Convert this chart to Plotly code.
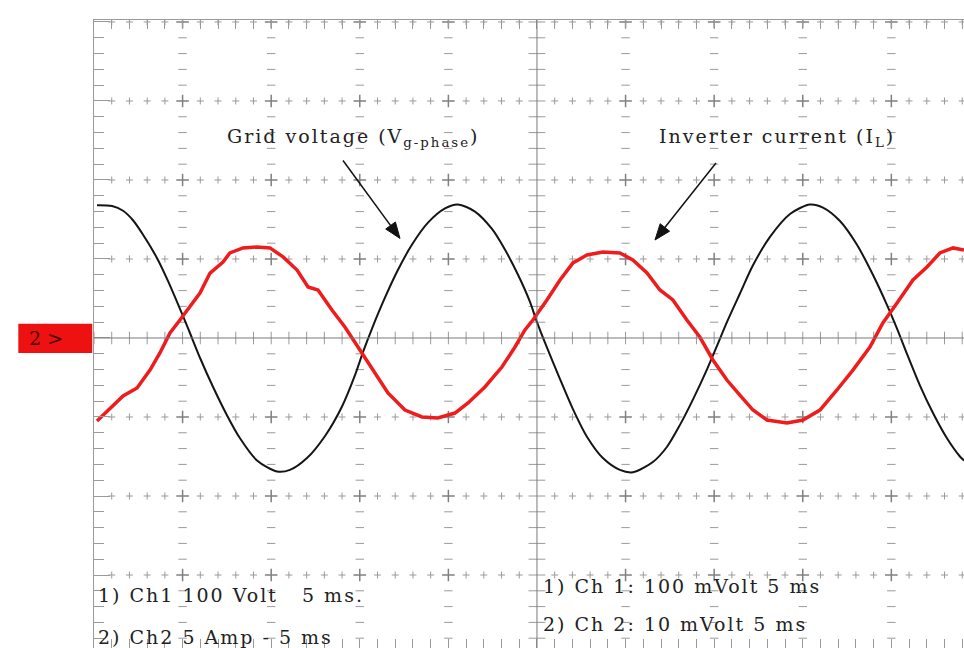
import plotly.graph_objects as go

# ---------------- data ----------------
# Ch1: grid voltage (V), time in ms (5 ms/div)
t_v = [0.17, 1.02, 1.64, 2.20, 2.76, 3.56, 4.18, 4.68, 5.13, 5.42, 5.98, 6.72, 7.51, 8.24,
       9.20, 10.33, 11.06, 12.02, 13.04, 13.99, 14.73, 15.18, 15.69, 16.42, 17.15, 17.94,
       18.85, 19.81, 20.54, 21.50, 22.46, 23.19, 23.93, 24.60, 25.00, 25.56, 26.30, 27.03,
       27.82, 28.72, 29.68, 30.41, 31.54, 32.33, 33.07, 33.80, 34.59, 35.16, 35.72, 36.45,
       37.19, 38.15, 39.28, 40.41, 41.14, 42.10, 43.06, 43.96, 44.75, 45.32, 45.88, 46.61,
       47.35, 48.14, 48.87, 49.10]
v_grid = [168, 167, 161, 149, 131, 101, 72, 46, 22, 6, -25, -62, -98, -127,
          -155, -169, -167, -152, -124, -87, -47, -18, 12, 51, 86, 118,
          146, 164, 169, 160, 138, 112, 80, 46, 20, -12, -52, -90,
          -125, -152, -167, -170, -157, -138, -110, -78, -40, -10, 20, 56,
          92, 128, 157, 169, 165, 148, 118, 80, 42, 12, -20, -60,
          -95, -127, -150, -155]

# Ch2: inverter current (A), time in ms
t_i = [0.17, 0.90, 1.64, 2.43, 3.16, 3.72, 4.29, 4.85, 5.42, 5.98, 6.55, 7.28, 7.67, 8.41,
       9.20, 9.93, 10.67, 11.46, 12.08, 12.64, 13.43, 14.16, 15.12, 15.86, 16.59, 17.55,
       18.51, 19.41, 20.37, 21.11, 22.06, 23.02, 23.76, 24.32, 24.77, 25.56, 26.30, 27.03,
       27.82, 28.72, 29.68, 30.41, 31.21, 31.94, 32.67, 33.46, 34.19, 34.93, 35.72, 36.45,
       37.19, 37.98, 39.11, 40.01, 40.97, 41.93, 42.83, 43.79, 44.52, 45.32, 46.22, 47.01,
       47.74, 48.48, 49.10]
i_inv = [-5.25, -4.43, -3.67, -3.16, -2.03, -0.95, 0.32, 1.14, 1.96, 2.85, 4.11, 4.81, 5.38, 5.70,
         5.76, 5.70, 5.13, 4.30, 3.23, 3.04, 1.77, 0.70, -0.95, -2.22, -3.48, -4.56,
         -5.00, -5.06, -4.75, -4.11, -3.10, -1.84, -0.57, 0.51, 1.14, 2.41, 3.67, 4.75,
         5.25, 5.44, 5.38, 4.94, 4.11, 3.04, 2.41, 1.14, 0.06, -1.39, -2.66, -3.61,
         -4.56, -5.19, -5.38, -5.19, -4.56, -3.29, -2.03, -0.57, 0.95, 2.22, 3.67, 4.49,
         5.38, 5.70, 5.57]

# scope settings
MS_PER_DIV = 5
V_PER_DIV = 100
A_PER_DIV = 5
X_RANGE = [0, 49.1]
Y_RANGE = [-392.4, 402.5]
Y2_RANGE = [Y_RANGE[0] * A_PER_DIV / V_PER_DIV, Y_RANGE[1] * A_PER_DIV / V_PER_DIV]

label_v = "Grid voltage (V<sub>g-phase</sub>)"
label_i = "Inverter current (I<sub>L</sub>)"
grid_label_left = ["1) Ch1 100 Volt   5 ms.", "2) Ch2 5 Amp - 5 ms"]
grid_label_right = ["1) Ch 1: 100 mVolt 5 ms", "2) Ch 2: 10 mVolt 5 ms"]

GRID_COL = "#9a9a9a"
TXT_COL = "#222222"
FONT = "DejaVu Serif"


def wide(s):
    return '<span style="letter-spacing:2px">' + s + '</span>'


fig = go.Figure()

# ---------------- graticule (built from the axis divisions) ----------------
minor_x = [k * MS_PER_DIV / 5 for k in range(0, 50) if k * MS_PER_DIV / 5 <= X_RANGE[1]]
minor_y = [k * V_PER_DIV / 5 for k in range(-19, 21)]
major_x = [k * MS_PER_DIV for k in range(0, 10)]
major_y = [k * V_PER_DIV for k in range(-3, 5)]
center_x = 5 * MS_PER_DIV

hx, hy = [], []
for yy in major_y:
    if yy == 0:
        continue
    for xx in minor_x:
        if xx % MS_PER_DIV != 0:
            hx.append(xx); hy.append(yy)
vx, vy = [], []
for xx in major_x:
    if xx in (0, center_x):
        continue
    for yy in minor_y:
        if yy % V_PER_DIV != 0:
            vx.append(xx); vy.append(yy)
ix, iy = [], []
for xx in major_x:
    if xx in (0, center_x):
        continue
    for yy in major_y:
        if yy != 0:
            ix.append(xx); iy.append(yy)

mk = dict(mode="markers", hoverinfo="skip", showlegend=False)
fig.add_trace(go.Scatter(x=hx, y=hy, marker=dict(symbol="cross-thin", size=5,
                         line=dict(color=GRID_COL, width=1)), **mk))
fig.add_trace(go.Scatter(x=vx, y=vy, marker=dict(symbol="line-ew", size=6,
                         line=dict(color=GRID_COL, width=1)), **mk))
fig.add_trace(go.Scatter(x=ix, y=iy, marker=dict(symbol="cross-thin", size=9,
                         line=dict(color="#808080", width=1.5)), **mk))
# centre axes tick marks
fig.add_trace(go.Scatter(x=minor_x, y=[0] * len(minor_x), marker=dict(symbol="line-ns", size=9,
                         line=dict(color=GRID_COL, width=1)), **mk))
fig.add_trace(go.Scatter(x=[center_x] * len(minor_y), y=minor_y, marker=dict(symbol="line-ew", size=12,
                         line=dict(color=GRID_COL, width=1)), **mk))
fig.add_hline(y=0, line=dict(color="#7a7a7a", width=1))
fig.add_vline(x=center_x, line=dict(color="#7a7a7a", width=1))

# ---------------- waveforms ----------------
fig.add_trace(go.Scatter(x=t_i, y=i_inv, yaxis="y2", mode="lines", name="Inverter current",
                         line=dict(color="#ee1c1c", width=3.5), showlegend=False))
fig.add_trace(go.Scatter(x=t_v, y=v_grid, mode="lines", name="Grid voltage",
                         line=dict(color="#151515", width=2, shape="spline", smoothing=0.8),
                         showlegend=False))

# ---------------- annotations ----------------
anns = [
    dict(x=7.4, y=254, text=label_v),
    dict(x=31.8, y=254, text=label_i),
    dict(x=0.1, y=-325, text=grid_label_left[0]),
    dict(x=0.1, y=-378, text=grid_label_left[1]),
    dict(x=25.2, y=-314, text=grid_label_right[0]),
    dict(x=25.2, y=-362, text=grid_label_right[1]),
]
for a in anns:
    a["text"] = wide(a["text"])
    fig.add_annotation(showarrow=False, xanchor="left", yanchor="middle",
                       font=dict(family=FONT, size=19, color=TXT_COL), **a)

# pointer arrows (pixel-sized shapes anchored at the arrow tips)
arrows = [
    dict(tip=(17.27, 126), tail=(-57, 78), head="M0,0 L-4.6,16.5 L-14.3,9.4 Z"),
    dict(tip=(31.66, 124), tail=(61, 77), head="M0,0 L14.6,8.8 L5.2,16.3 Z"),
]
for ar in arrows:
    common = dict(xref="x", yref="y", xsizemode="pixel", ysizemode="pixel",
                  xanchor=ar["tip"][0], yanchor=ar["tip"][1])
    fig.add_shape(type="line", x0=ar["tail"][0], y0=ar["tail"][1],
                  x1=ar["tail"][0] * 0.1, y1=ar["tail"][1] * 0.1,
                  line=dict(color="#111111", width=1.5), **common)
    fig.add_shape(type="path", path=ar["head"], fillcolor="#111111",
                  line=dict(color="#111111", width=1), **common)

# channel-2 ground marker
fig.add_shape(type="rect", xref="paper", yref="y", x0=-0.087, x1=-0.002, y0=-19, y1=18,
              fillcolor="#ee1111", line=dict(width=0))
fig.add_annotation(xref="paper", yref="y", x=-0.055, y=0, xanchor="center", text="2 >",
                   showarrow=False, font=dict(family=FONT, size=19, color="#4a0000"))

fig.update_layout(
    width=964, height=648,
    margin=dict(l=94, r=0, t=20, b=0),
    paper_bgcolor="white", plot_bgcolor="white",
    xaxis=dict(range=X_RANGE, showgrid=False, zeroline=False, showticklabels=False,
               showline=True, linecolor="#9a9a9a", mirror="allticks",
               ticks="inside", dtick=MS_PER_DIV, ticklen=9, tickcolor="#9a9a9a",
               minor=dict(dtick=MS_PER_DIV / 5, ticks="inside", ticklen=8, tickcolor="#9a9a9a")),
    yaxis=dict(range=Y_RANGE, showgrid=False, zeroline=False, showticklabels=False,
               showline=True, linecolor="#9a9a9a",
               ticks="inside", dtick=V_PER_DIV, ticklen=16, tickcolor="#9a9a9a",
               minor=dict(dtick=V_PER_DIV / 5, ticks="inside", ticklen=10, tickcolor="#9a9a9a")),
    yaxis2=dict(range=Y2_RANGE, overlaying="y", visible=False),
)

fig.write_html("out.html", config={"displayModeBar": False},
               post_script="document.body.style.margin='0';document.body.style.overflow='hidden';")
